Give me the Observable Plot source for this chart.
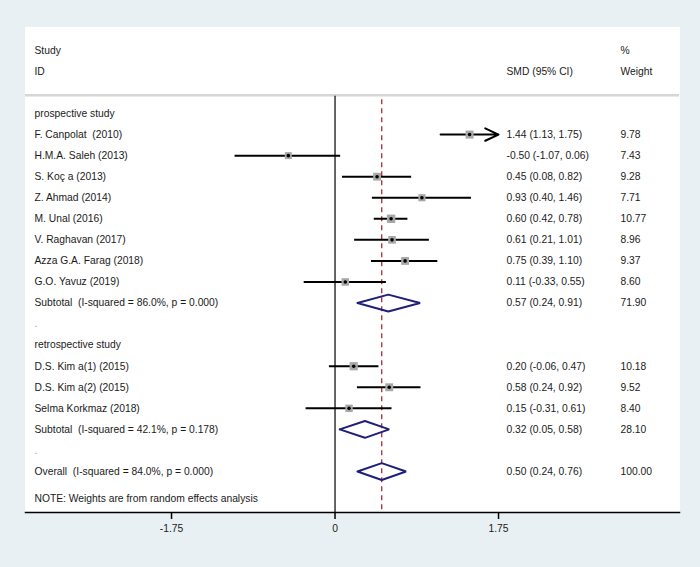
<!DOCTYPE html>
<html>
<head>
<meta charset="utf-8">
<script src="https://cdn.jsdelivr.net/npm/d3@7"></script>
<script src="https://cdn.jsdelivr.net/npm/@observablehq/plot@0.6"></script>
<style>
  html, body { margin: 0; padding: 0; background: #e9f0f3; }
  svg text { white-space: pre; }
</style>
</head>
<body>
<div id="chart"></div>
<script>
// ---- data ----
const labels = [
  "prospective study",
  "F. Canpolat  (2010)",
  "H.M.A. Saleh (2013)",
  "S. Koç a (2013)",
  "Z. Ahmad (2014)",
  "M. Unal (2016)",
  "V. Raghavan (2017)",
  "Azza G.A. Farag (2018)",
  "G.O. Yavuz (2019)",
  "Subtotal  (I-squared = 86.0%, p = 0.000)",
  ".",
  "retrospective study",
  "D.S. Kim a(1) (2015)",
  "D.S. Kim a(2) (2015)",
  "Selma Korkmaz (2018)",
  "Subtotal  (I-squared = 42.1%, p = 0.178)",
  ".",
  "Overall  (I-squared = 84.0%, p = 0.000)"
];
const kinds = ["head","study","study","study","study","study","study","study","study","pooled","blank",
               "head","study","study","study","pooled","blank","pooled"];
const estimates = [null, 1.44, -0.50, 0.45, 0.93, 0.60, 0.61, 0.75, 0.11, 0.57, null,
                   null, 0.20, 0.58, 0.15, 0.32, null, 0.50];
const lower = [null, 1.13, -1.07, 0.08, 0.40, 0.42, 0.21, 0.39, -0.33, 0.24, null,
               null, -0.06, 0.24, -0.31, 0.05, null, 0.24];
const upper = [null, 1.75, 0.06, 0.82, 1.46, 0.78, 1.01, 1.10, 0.55, 0.91, null,
               null, 0.47, 0.92, 0.61, 0.58, null, 0.76];
const weights = [null, 9.78, 7.43, 9.28, 7.71, 10.77, 8.96, 9.37, 8.60, 71.90, null,
                 null, 10.18, 9.52, 8.40, 28.10, null, 100.00];

const headerLeft = ["Study", "ID"];
const headerSmd = ["", "SMD (95% CI)"];
const headerWeight = ["%", "Weight"];
const noteText = "NOTE: Weights are from random effects analysis";

const tickValues = [-1.75, 0, 1.75];
const tickLabels = ["-1.75", "0", "1.75"];
const axisMax = 1.75;

// ---- derived ----
const fmt = v => v.toFixed(2);
const rows = labels.map((label, i) => ({
  row: i, label, kind: kinds[i], est: estimates[i], lo: lower[i], hi: upper[i], w: weights[i]
}));
const studies = rows.filter(d => d.kind === "study");
const clipped = studies.filter(d => d.hi >= axisMax);
const plain = studies.filter(d => d.hi < axisMax);
const pooled = rows.filter(d => d.kind === "pooled");
const overall = pooled[pooled.length - 1].est;
const withValues = rows.filter(d => d.est != null);
const headers = headerLeft.map((t, i) => ({row: i - headerLeft.length - 1, left: t, smd: headerSmd[i], weight: headerWeight[i]}));

const halfH = 0.4;
const diamondPts = pooled.flatMap(d => [
  {row: d.row, x: d.lo, y: d.row},
  {row: d.row, x: d.est, y: d.row - halfH},
  {row: d.row, x: d.hi, y: d.row},
  {row: d.row, x: d.est, y: d.row + halfH},
  {row: d.row, x: d.lo, y: d.row}
]);

const sepRow = -0.87;
const yBottom = 18.946;
const textColor = "#1a1a1a";

const chart = Plot.plot({
  width: 700,
  height: 567,
  marginTop: 27,
  marginBottom: 55,
  marginLeft: 25,
  marginRight: 21,
  style: {background: "transparent", fontFamily: "'Liberation Sans', Arial, sans-serif", fontSize: "10.3px", color: textColor},
  x: {domain: [-3.313, 3.687]},
  y: {domain: [-4.084, yBottom], reverse: true, axis: null},
  r: {type: "sqrt", domain: [0, 10.77], range: [0, 4.76]},
  marks: [
    Plot.frame({fill: "white", stroke: "white"}),
    Plot.ruleY([sepRow], {stroke: "#d6d6d6", strokeWidth: 2.5}),
    Plot.ruleX([0], {y1: sepRow + 0.05, y2: yBottom, stroke: "black", strokeWidth: 1.2}),
    Plot.ruleX([overall], {y1: -0.65, y2: yBottom, stroke: "#9e1a2c", strokeWidth: 1.2, strokeDasharray: "5,4"}),
    Plot.ruleY(plain, {y: "row", x1: "lo", x2: "hi", stroke: "black", strokeWidth: 2}),
    Plot.arrow(clipped, {x1: "lo", x2: "hi", y1: "row", y2: "row", stroke: "black", strokeWidth: 2, headLength: 11, headAngle: 50}),
    Plot.dot(studies, {x: "est", y: "row", r: "w", symbol: "square", fill: "#a8a8a8"}),
    Plot.dot(studies, {x: "est", y: "row", r: 1.8, fill: "black"}),
    Plot.line(diamondPts, {x: "x", y: "y", z: "row", stroke: "#1f1f7a", strokeWidth: 2, strokeLinejoin: "miter"}),
    Plot.text(rows, {frameAnchor: "left", dx: 9, y: "row", text: "label", textAnchor: "start",
      fill: d => d.kind === "blank" ? "#999" : textColor}),
    Plot.text(withValues, {frameAnchor: "left", dx: 481, y: "row", text: d => `${fmt(d.est)} (${fmt(d.lo)}, ${fmt(d.hi)})`, textAnchor: "start", fill: textColor}),
    Plot.text(withValues, {frameAnchor: "left", dx: 595, y: "row", text: d => fmt(d.w), textAnchor: "start", fill: textColor}),
    Plot.text(headers, {frameAnchor: "left", dx: 9, y: "row", text: "left", textAnchor: "start", fill: textColor}),
    Plot.text(headers, {frameAnchor: "left", dx: 481, y: "row", text: "smd", textAnchor: "start", fill: textColor}),
    Plot.text(headers, {frameAnchor: "left", dx: 595, y: "row", text: "weight", textAnchor: "start", fill: textColor}),
    Plot.text([noteText], {frameAnchor: "bottom-left", dx: 9, dy: -11, text: d => d, textAnchor: "start", fill: textColor}),
    Plot.axisX({anchor: "bottom", ticks: tickValues, tickFormat: (d) => tickLabels[tickValues.indexOf(d)],
      tickSize: 7, tickPadding: 5, strokeWidth: 1.5, stroke: "black", fill: textColor, label: null}),
    Plot.frame({anchor: "bottom", stroke: "black", strokeWidth: 1.5})
  ]
});
document.getElementById("chart").appendChild(chart);
</script>
</body>
</html>
